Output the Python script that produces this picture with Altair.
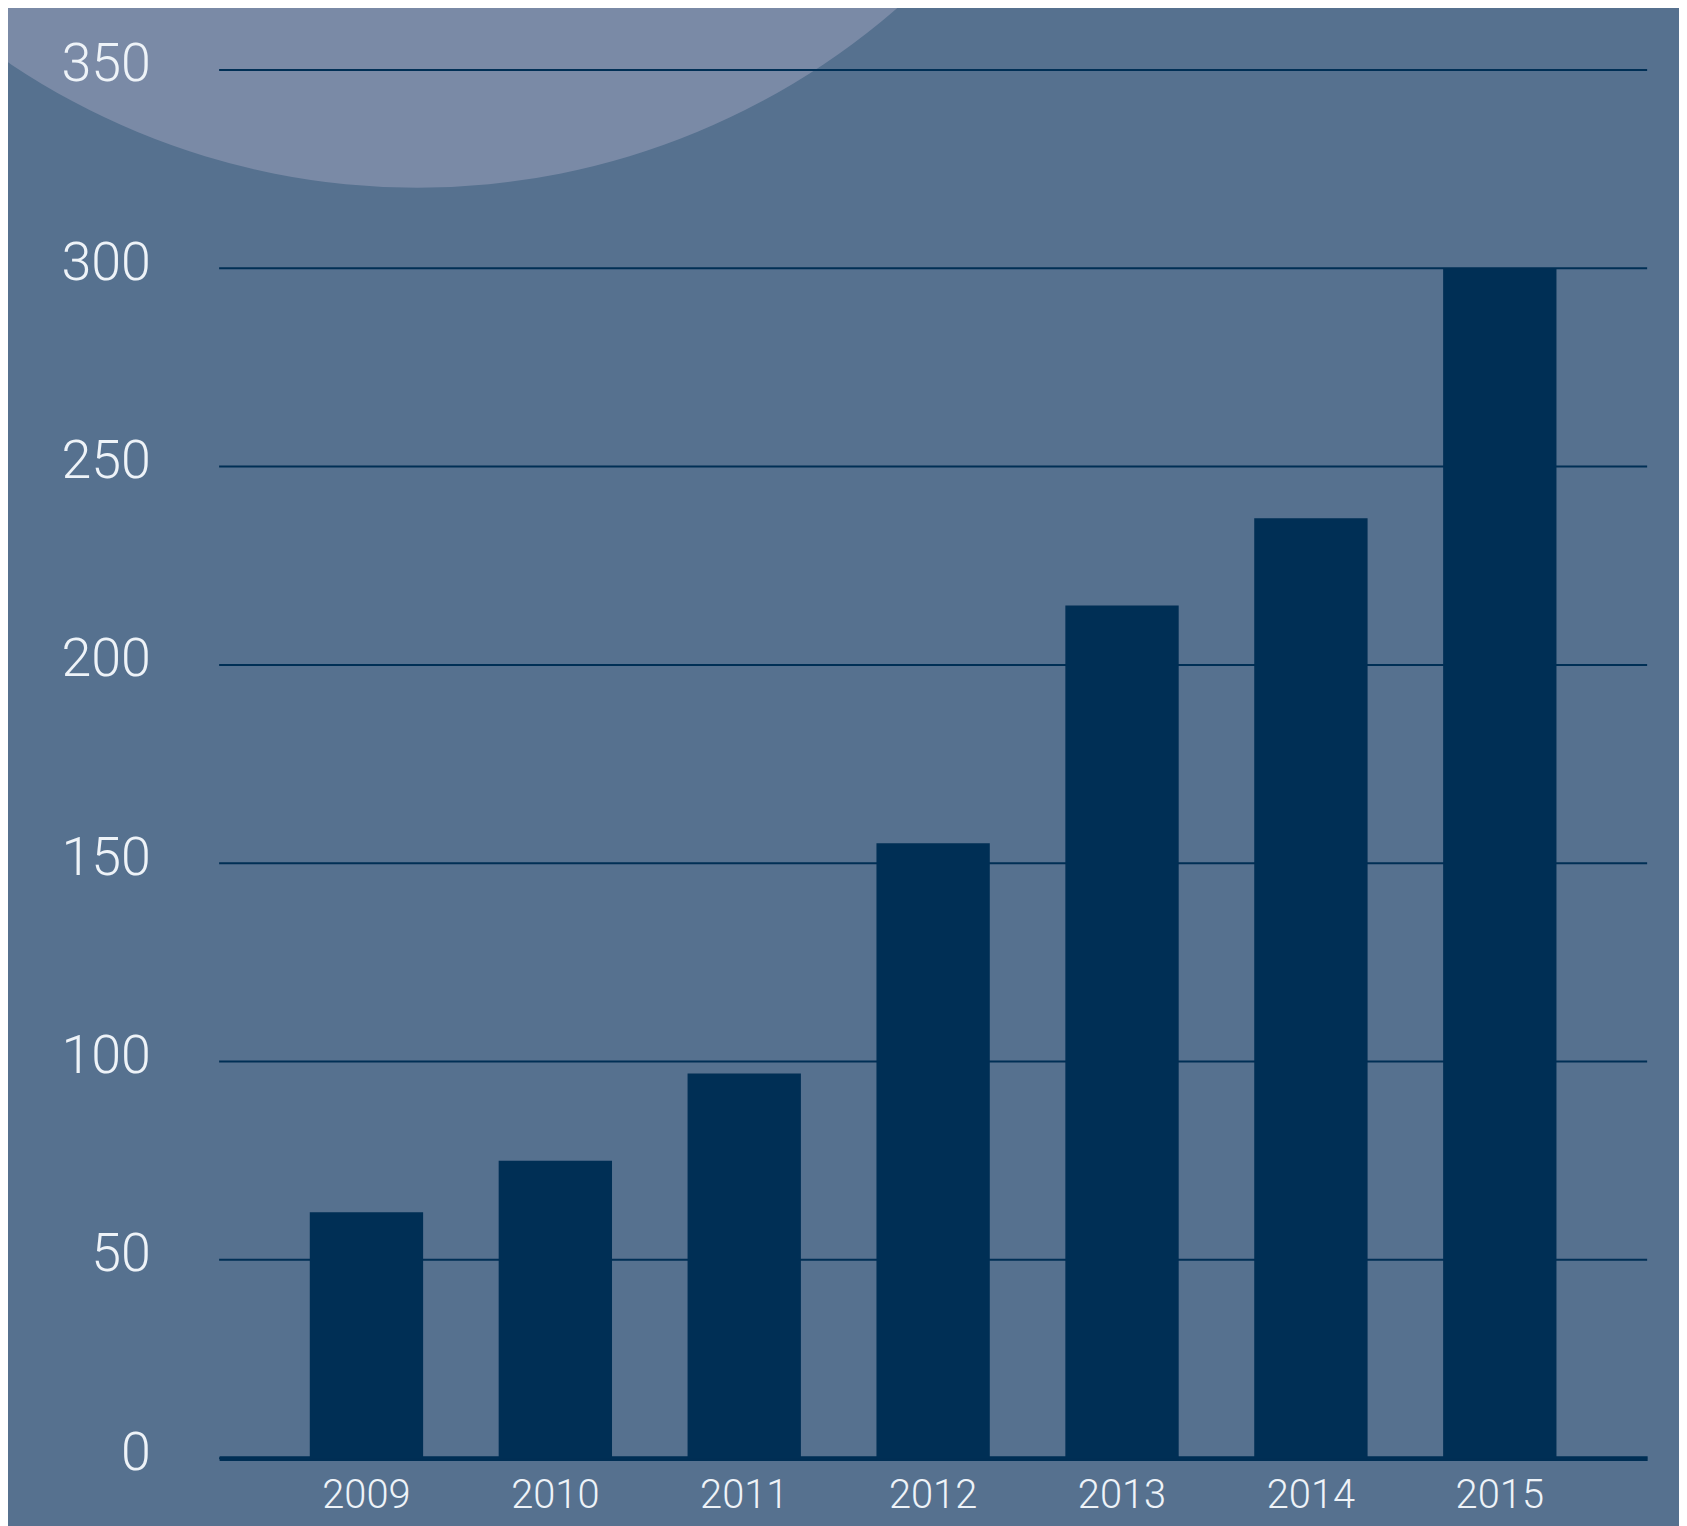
import altair as alt
import pandas as pd

years = ["2009", "2010", "2011", "2012", "2013", "2014", "2015"]
values = [62, 75, 97, 155, 215, 237, 300]
y_ticks = [0, 50, 100, 150, 200, 250, 300, 350]

BG = "#56718f"
NAVY = "#002f55"
CIRCLE = "#7a8aa6"
LABEL = "#eef3f8"

df = pd.DataFrame({"year": years, "value": values})
grid_df = pd.DataFrame({"value": y_ticks})
deco = pd.DataFrame({"k": [0]})

y_scale = alt.Scale(domain=[0, 350], nice=False)
y_axis = alt.Axis(
    title=None, values=y_ticks, ticks=False, domain=False,
    grid=False, zindex=1,
    labelFont="Roboto", labelFontWeight=300, labelFontSize=54,
    labelColor=LABEL, labelPadding=69, labelOffset=-5,
)

circle = alt.Chart(deco).mark_circle(
    size=2155000, color=CIRCLE, opacity=1
).encode(x=alt.value(199), y=alt.value(-616))

grid = alt.Chart(grid_df).mark_rule(color=NAVY, strokeWidth=2).encode(
    y=alt.Y("value:Q", scale=y_scale, axis=y_axis)
)

bars = alt.Chart(df).mark_bar(color=NAVY).encode(
    x=alt.X(
        "year:N",
        sort=years,
        scale=alt.Scale(paddingInner=0.4, paddingOuter=0.48),
        axis=alt.Axis(
            title=None, labelAngle=0, ticks=False, grid=False,
            domainColor=NAVY, domainWidth=5,
            labelFont="Roboto", labelFontWeight=300, labelFontSize=40,
            labelColor=LABEL, labelPadding=18,
        ),
    ),
    y=alt.Y("value:Q", scale=y_scale, axis=y_axis),
)

chart = alt.layer(circle, grid, bars).properties(
    width=1434,
    height=1394,
    background=BG,
    padding={"left": 212, "top": 59, "right": 32, "bottom": 80},
    autosize=alt.AutoSizeParams(type="none"),
).configure_view(stroke=None)

chart.save("out.html", embed_options={"renderer": "svg", "actions": False})
